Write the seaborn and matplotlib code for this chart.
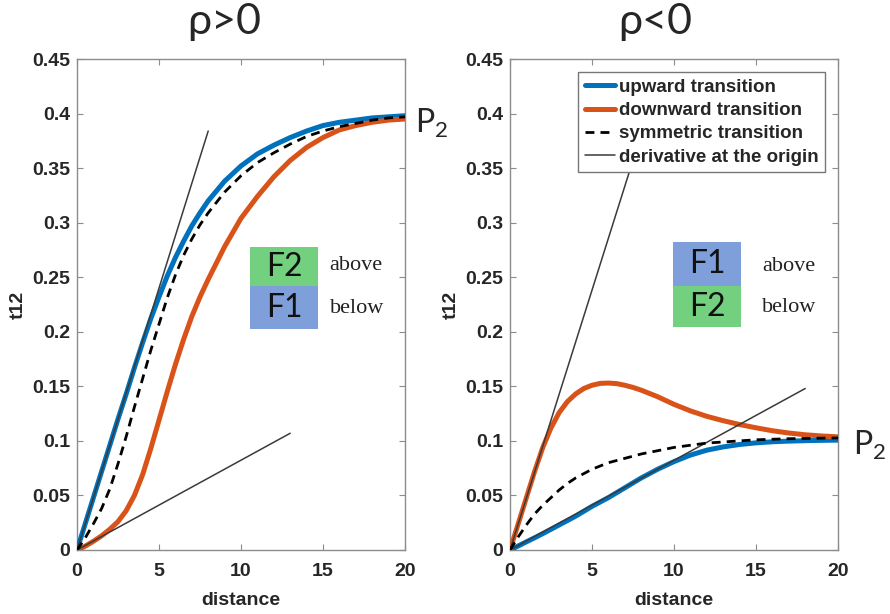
import matplotlib
matplotlib.use("Agg")
import matplotlib.pyplot as plt
from matplotlib.patches import Rectangle
from matplotlib.lines import Line2D
import seaborn as sns
import pandas as pd

# ---------------- data ----------------
distance = [0, 0.5, 1, 1.5, 2, 2.5, 3, 3.5, 4, 4.5, 5, 5.5, 6, 6.5, 7, 7.5, 8,
            9, 10, 11, 12, 13, 14, 15, 16, 17, 18, 19, 20]

# rho > 0
pos_upward = [0, 0.024, 0.048, 0.072, 0.096, 0.120, 0.143, 0.167, 0.190, 0.212, 0.232,
              0.251, 0.268, 0.283, 0.297, 0.309, 0.320,
              0.338, 0.352, 0.363, 0.371, 0.378, 0.384, 0.389, 0.392, 0.394, 0.396, 0.397, 0.398]
pos_downward = [0, 0.0035, 0.008, 0.013, 0.019, 0.026, 0.036, 0.050, 0.069, 0.093, 0.119,
                0.145, 0.170, 0.193, 0.214, 0.232, 0.248,
                0.278, 0.304, 0.324, 0.342, 0.357, 0.369, 0.378, 0.385, 0.389, 0.392, 0.394, 0.395]
pos_symmetric = [0, 0.011, 0.024, 0.038, 0.056, 0.079, 0.104, 0.131, 0.157, 0.183, 0.207,
                 0.231, 0.252, 0.270, 0.285, 0.298, 0.309,
                 0.328, 0.343, 0.355, 0.364, 0.372, 0.379, 0.384, 0.388, 0.391, 0.394, 0.396, 0.397]
pos_tangent_steep_x = [0, 8.0]
pos_tangent_steep_y = [0, 0.384]
pos_tangent_shallow_x = [0, 13.0]
pos_tangent_shallow_y = [0, 0.107]

# rho < 0
neg_upward = [0, 0.0037, 0.0075, 0.0112, 0.015, 0.019, 0.023, 0.027, 0.031, 0.0355, 0.040,
              0.044, 0.048, 0.0525, 0.057, 0.0615, 0.066,
              0.074, 0.081, 0.087, 0.0915, 0.0945, 0.0967, 0.0982, 0.0992, 0.0998, 0.1002, 0.1005, 0.1007]
neg_downward = [0, 0.024, 0.048, 0.072, 0.094, 0.112, 0.126, 0.136, 0.143, 0.148, 0.151,
                0.1527, 0.153, 0.1525, 0.151, 0.149, 0.1465,
                0.1405, 0.1335, 0.1275, 0.1225, 0.1185, 0.115, 0.112, 0.1093, 0.1072, 0.1056, 0.1045, 0.1037]
neg_symmetric = [0, 0.012, 0.023, 0.033, 0.041, 0.048, 0.055, 0.061, 0.066, 0.070, 0.074,
                 0.077, 0.080, 0.082, 0.084, 0.086, 0.088,
                 0.091, 0.094, 0.096, 0.098, 0.099, 0.100, 0.101, 0.1015, 0.102, 0.1022, 0.1025, 0.1027]
neg_tangent_steep_x = [0, 8.0]
neg_tangent_steep_y = [0, 0.381]
neg_tangent_shallow_x = [0, 18.0]
neg_tangent_shallow_y = [0, 0.148]

y_ticks = [0, 0.05, 0.1, 0.15, 0.2, 0.25, 0.3, 0.35, 0.4, 0.45]
y_tick_labels = ["0", "0.05", "0.1", "0.15", "0.2", "0.25", "0.3", "0.35", "0.4", "0.45"]
x_ticks = [0, 5, 10, 15, 20]
series_labels = ["upward transition", "downward transition",
                 "symmetric transition", "derivative at the origin"]

# ---------------- style ----------------
sns.set_theme(style="white")
plt.rcParams["font.family"] = ["Liberation Sans", "DejaVu Sans"]

BLUE = "#0072BD"
ORANGE = "#D95319"
GREEN_BOX = "#72D07E"
BLUE_BOX = "#7F9FDA"
SPINE = "#8C8C8C"
TAN = "#3A3A3A"
DASH = (0, (3.2, 2.2))

fig = plt.figure(figsize=(8.9, 6.14), dpi=100)
W, H = 890.0, 614.0
ax1 = fig.add_axes([77 / W, 1 - 550 / H, 328 / W, 491 / H])
ax2 = fig.add_axes([510 / W, 1 - 550 / H, 328 / W, 491 / H])


def draw(ax, up, down, sym, t1x, t1y, t2x, t2y):
    df = pd.DataFrame({"distance": distance, "up": up, "down": down, "sym": sym})
    sns.lineplot(x=t1x, y=t1y, ax=ax, color=TAN, lw=1.1, zorder=4)
    sns.lineplot(x=t2x, y=t2y, ax=ax, color=TAN, lw=1.1, zorder=4)
    sns.lineplot(data=df, x="distance", y="up", ax=ax, color=BLUE, lw=3.6, zorder=3)
    sns.lineplot(data=df, x="distance", y="down", ax=ax, color=ORANGE, lw=3.6, zorder=3)
    sns.lineplot(data=df, x="distance", y="sym", ax=ax, color="black", lw=2.0, zorder=5)
    ax.lines[-1].set_linestyle(DASH)
    for ln in ax.lines:
        ln.set_solid_joinstyle("round")
        ln.set_dash_joinstyle("round")
    ax.set_xlim(0, 20)
    ax.set_ylim(0, 0.45)
    ax.set_xticks(x_ticks)
    ax.set_xticklabels([str(v) for v in x_ticks], fontweight="bold", fontsize=14)
    ax.set_yticks(y_ticks)
    ax.set_yticklabels(y_tick_labels, fontweight="bold", fontsize=14)
    ax.tick_params(direction="in", length=4, width=0.8, color=SPINE,
                   top=True, right=True, bottom=True, left=True)
    ax.tick_params(axis="x", pad=9)
    ax.tick_params(axis="y", pad=5)
    for s in ax.spines.values():
        s.set_color(SPINE)
        s.set_linewidth(1.0)
    ax.set_xlabel("distance", fontweight="bold", fontsize=14, labelpad=9)
    ax.set_ylabel("t12", fontweight="bold", fontsize=14, labelpad=4)
    ax.set_facecolor("white")


draw(ax1, pos_upward, pos_downward, pos_symmetric,
     pos_tangent_steep_x, pos_tangent_steep_y, pos_tangent_shallow_x, pos_tangent_shallow_y)
draw(ax2, neg_upward, neg_downward, neg_symmetric,
     neg_tangent_steep_x, neg_tangent_steep_y, neg_tangent_shallow_x, neg_tangent_shallow_y)


def box(ax, x0, x1, y0, y1, color, label):
    ax.add_patch(Rectangle((x0, y0), x1 - x0, y1 - y0, facecolor=color,
                           edgecolor="none", zorder=6))
    ax.text((x0 + x1) / 2, (y0 + y1) / 2, label, ha="center", va="center",
            fontsize=23, family="Lato", color="#111111", zorder=7)


box(ax1, 10.57, 14.68, 0.2415, 0.278, GREEN_BOX, "F2")
box(ax1, 10.57, 14.68, 0.203, 0.2415, BLUE_BOX, "F1")
ax1.text(17.0, 0.261, "above", ha="center", va="center", fontsize=16,
         family="Liberation Serif", color="#222222", zorder=7)
ax1.text(17.1, 0.221, "below", ha="center", va="center", fontsize=16,
         family="Liberation Serif", color="#222222", zorder=7)

box(ax2, 9.95, 14.11, 0.2415, 0.282, BLUE_BOX, "F1")
box(ax2, 9.95, 14.11, 0.2044, 0.2415, GREEN_BOX, "F2")
ax2.text(17.0, 0.260, "above", ha="center", va="center", fontsize=16,
         family="Liberation Serif", color="#222222", zorder=7)
ax2.text(17.0, 0.222, "below", ha="center", va="center", fontsize=16,
         family="Liberation Serif", color="#222222", zorder=7)

# P2 labels
plt.rcParams["mathtext.fontset"] = "custom"
plt.rcParams["mathtext.rm"] = "Lato"
ax1.text(20.6, 0.391, r"P$_\mathrm{2}$", ha="left", va="center", fontsize=23,
         family="Lato", clip_on=False)
ax2.text(20.9, 0.096, r"P$_\mathrm{2}$", ha="left", va="center", fontsize=23,
         family="Lato", clip_on=False)

# titles
fig.text(224 / W, 1 - 22 / H, "ρ>0", ha="center", va="center", fontsize=31, family="Lato")
fig.text(655 / W, 1 - 22 / H, "ρ<0", ha="center", va="center", fontsize=31, family="Lato")

# legend
handles = [Line2D([], [], color=BLUE, lw=3.6),
           Line2D([], [], color=ORANGE, lw=3.6),
           Line2D([], [], color="black", lw=2.0, linestyle=DASH),
           Line2D([], [], color=TAN, lw=1.1)]
leg = ax2.legend(handles, series_labels, loc="upper right", fancybox=False,
                 framealpha=1, edgecolor="#777777", handlelength=1.6,
                 handletextpad=0.2, borderpad=0.35, labelspacing=0.33,
                 borderaxespad=0.7, prop={"weight": "bold", "size": 13.5})
leg.set_zorder(10)
leg.get_frame().set_linewidth(1.0)

fig.savefig("out.png", dpi=100, facecolor="white")
